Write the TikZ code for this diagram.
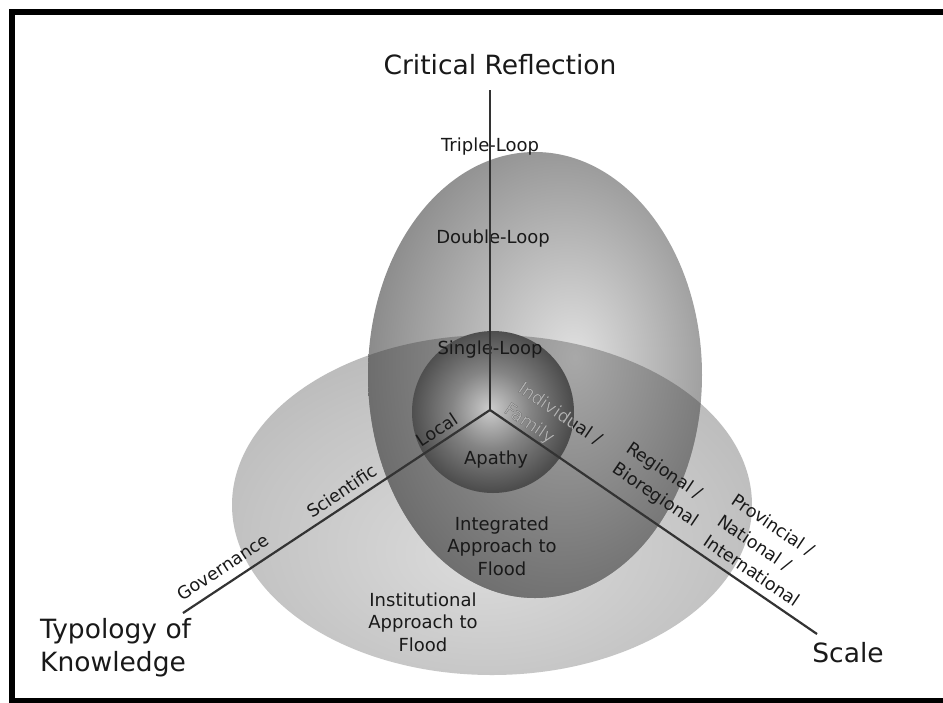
\documentclass[tikz,border=0pt]{standalone}
\usepackage{fontspec}
\setmainfont{DejaVu Sans}
\newcommand\myfs[2]{\fontsize{#1}{#2}\selectfont}
\definecolor{hcA}{gray}{0.86}
\definecolor{hcB}{gray}{0.77}
\definecolor{hcC}{gray}{0.71}
\definecolor{vcA}{gray}{0.88}
\definecolor{vcB}{gray}{0.62}
\definecolor{vcC}{gray}{0.50}
\definecolor{ocA}{gray}{0.66}
\definecolor{ocB}{gray}{0.48}
\definecolor{ocC}{gray}{0.40}
\definecolor{ccA}{gray}{0.80}
\definecolor{ccB}{gray}{0.52}
\definecolor{ccC}{gray}{0.30}
\definecolor{txt}{gray}{0.10}
\pgfdeclareradialshading{hshade}{\pgfpoint{-1bp}{-8bp}}{color(0bp)=(hcA); color(22bp)=(hcB); color(34bp)=(hcC); color(60bp)=(hcC)}
\pgfdeclareradialshading{vshade}{\pgfpoint{6bp}{2bp}}{color(0bp)=(vcA); color(22bp)=(vcB); color(32bp)=(vcC); color(60bp)=(vcC)}
\pgfdeclareradialshading{oshade}{\pgfpoint{6bp}{2bp}}{color(0bp)=(ocA); color(22bp)=(ocB); color(32bp)=(ocC); color(60bp)=(ocC)}
\pgfdeclareradialshading{cshade}{\pgfpoint{-1bp}{1bp}}{color(0bp)=(ccA); color(12bp)=(ccB); color(25bp)=(ccC); color(50bp)=(ccC)}
\tikzset{
  small/.style={font=\myfs{17.5}{25}, text=txt, inner sep=0pt, align=left},
  mid/.style={font=\myfs{18}{22.5}, text=txt, inner sep=0pt, align=center},
  big/.style={font=\myfs{26.5}{33}, text=txt, inner sep=0pt},
  axisline/.style={draw=black!80, line width=2.2pt},
}
\begin{document}
\begin{tikzpicture}[x=1pt,y=-1pt]
\useasboundingbox (0,0) rectangle (943,702);
\begin{scope}
\clip (0,0) rectangle (943,702);
\fill[white] (0,0) rectangle (943,702);
\draw[black, line width=6pt] (12,12) rectangle (980,701);
\end{scope}
% horizontal ellipse
\shade[shading=hshade] (492,505) ellipse [x radius=260, y radius=170];
% vertical ellipse
\shade[shading=vshade] (535,375) ellipse [x radius=167, y radius=223];
\begin{scope}
\clip (492,505) ellipse [x radius=260, y radius=170];
\shade[shading=oshade] (535,375) ellipse [x radius=167, y radius=223];
\end{scope}
% inner sphere
\shade[shading=cshade] (493,412) circle [radius=81];

% labels
\node[big] (crit) at (500,65) {Critical Reflection};
\node[mid] (triple) at (490,147) {Triple-Loop};
\node[mid] (double) at (493,239) {Double-Loop};
\node[mid] (single) at (490,350) {Single-Loop};
\node[mid] (apathy) at (496,460) {Apathy};
\node[mid] (integ) at (502,546) {Integrated\\Approach to\\Flood};
\node[mid] (instit) at (423,622) {Institutional\\Approach to\\Flood};
\node[big, anchor=west, align=left] (typo) at (40,648) {Typology of\\Knowledge};
\node[big] (scale) at (848,653) {Scale};

\node[small, rotate=33.5] (gov) at (223,567) {Governance};
\node[small, rotate=33.5] (sci) at (342,491) {Scientific};
\node[small, rotate=33.5] (loc) at (437,430) {Local};

\node[small, rotate=-34] (indiv) at (553,425) {Individual /\\Family};
\begin{scope}
\clip (493,412) circle [radius=81];
\node[small, rotate=-34, text=gray!62] (indivB) at (553,425) {Individual /\\Family};
\end{scope}
\node[small, rotate=-34] (reg) at (662,485) {Regional /\\Bioregional};
\node[small, rotate=-34] (prov) at (766,550) {Provincial /\\National /\\International};

% axes
\coordinate (O) at (490,410);
\coordinate (T) at (490,90);
\coordinate (L) at (183,613);
\coordinate (R) at (817,634);
\draw[axisline] (O) -- (T);
\draw[axisline] (O) -- (L);
\draw[axisline] (O) -- (R);
\end{tikzpicture}
\end{document}
